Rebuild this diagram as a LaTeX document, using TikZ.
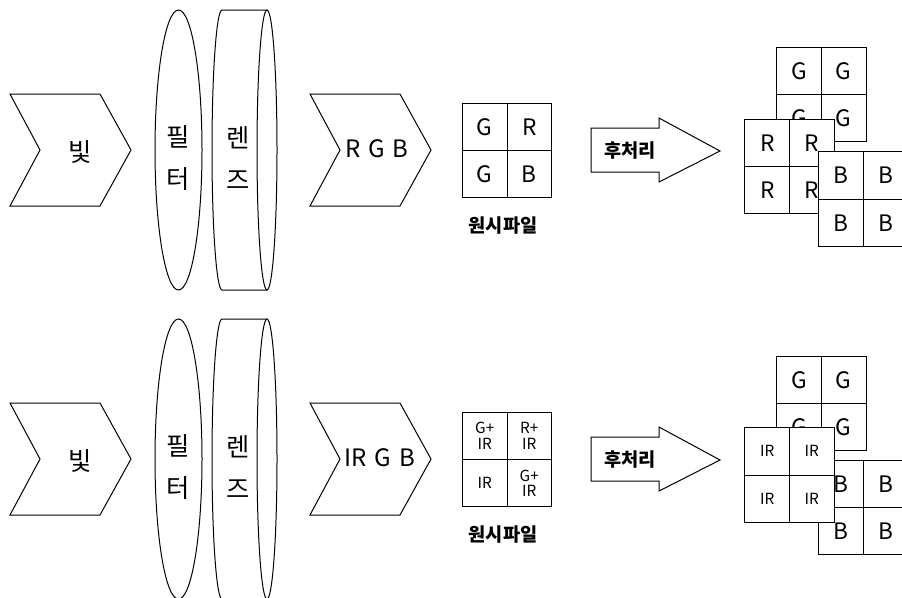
\documentclass[tikz,border=0pt]{standalone}
\usepackage{fontspec}
\setmainfont{Noto Sans CJK KR}
\usetikzlibrary{matrix}

\tikzset{
  cellgrid/.style={matrix of nodes, inner sep=0pt, ampersand replacement=\&,
    column sep=-\pgflinewidth, row sep=-\pgflinewidth,
    nodes={draw, fill=white, inner sep=0pt, anchor=center, minimum width=33.4pt,
      minimum height=35.6pt, font=\fontsize{17}{17}\selectfont}},
  smalltext/.style={font=\fontsize{11.5}{12}\selectfont}
}

\begin{document}
\begin{tikzpicture}[x=0.75pt,y=-0.75pt,line width=0.75pt]
    \pgfmathsetmacro{\rowgap}{309}
    \providecommand{\bigfontsize}{\fontsize{19}{32}\selectfont}
    \providecommand{\letterfontsize}{\fontsize{18}{18}\selectfont}
    \providecommand{\captionfontsize}{\fontsize{14}{14}\selectfont\bfseries}
    \useasboundingbox (0,0) rectangle (902,597);
    \clip (0,0) rectangle (902,597);
    \foreach \row in {0,1} {
    \begin{scope}[shift={(0,\row*\rowgap)}]
        % light
        \draw (10,94) -- (100,94) -- (131,150) -- (100,206) -- (10,206) -- (40,150) -- cycle;
        \node[font=\bigfontsize] (light\row) at (80,152) {빛};
        % filter
        \draw (178.5,150) ellipse [x radius=23.5, y radius=140];
        \node[font=\bigfontsize, align=center] (filter\row) at (178.5,158) {필\\터};
        % lens
        \draw (267,10) -- (222,10) arc[start angle=-90, end angle=-270, x radius=10, y radius=140] -- (267,290);
        \draw (267,150) ellipse [x radius=10, y radius=140];
        \node[font=\bigfontsize, align=center] (lens\row) at (238,158) {렌\\즈};
        % sensor
        \draw (310,94) -- (400,94) -- (431,150) -- (400,206) -- (310,206) -- (340,150) -- cycle;
        \node[font=\captionfontsize] (rawname\row) at (503,226) {원시파일};
        % post processing
        \draw (591,128) -- (659,128) -- (659,118) -- (720,151) -- (659,182) -- (659,172) -- (591,172) -- cycle;
        \node[font=\captionfontsize] (post\row) at (630,151) {후처리};
        \matrix (green\row) [cellgrid] at (821.5,94.5) {G \& G\\ G \& G\\};
    \end{scope}
    }
    % RGB row
    \node[font=\letterfontsize] (rgb) at (377,149) {R\,\,G\,\,B};
    \matrix (raw) [cellgrid] at (507,150.5) {G \& R\\ G \& B\\};
    \matrix (red) [cellgrid] at (789.5,166.5) {R \& R\\ R \& R\\};
    \matrix (blue) [cellgrid] at (863.5,199) {B \& B\\ B \& B\\};
    % IR row
    \node[font=\letterfontsize] (irgb) at (380,458) {IR\,\,G\,\,B};
    \matrix (rawir) [cellgrid, nodes={smalltext}] at (507,459.5)
        {\shortstack{G+\\IR} \& \shortstack{R+\\IR}\\ IR \& \shortstack{G+\\IR}\\};
    \matrix (blueir) [cellgrid] at (863.5,507.5) {B \& B\\ B \& B\\};
    \matrix (ir) [cellgrid, nodes={smalltext}] at (789.5,475) {IR \& IR\\ IR \& IR\\};
\end{tikzpicture}
\end{document}
